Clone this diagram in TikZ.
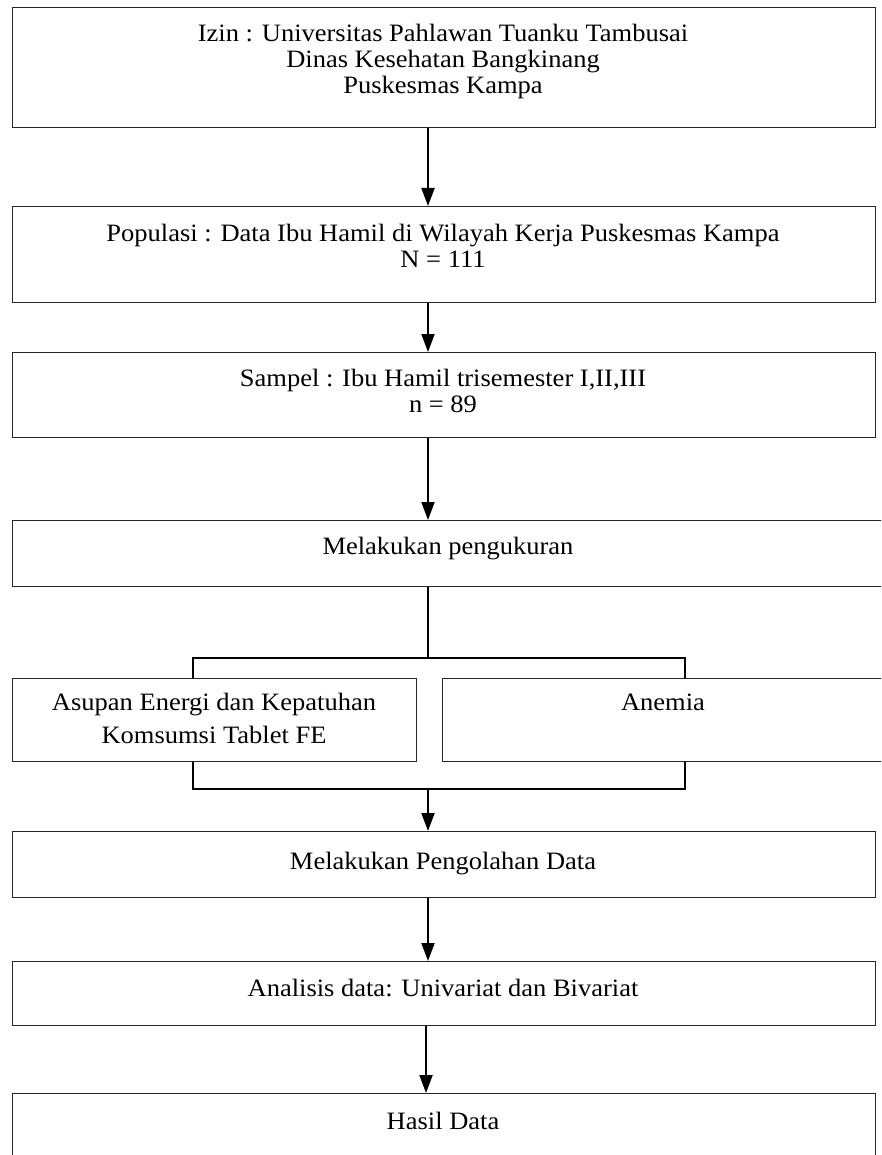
\documentclass[tikz,border=0pt]{standalone}
\usepackage{fontspec}
\setmainfont{Liberation Serif}[FakeStretch=1.06]
\usetikzlibrary{arrows.meta}
\begin{document}
\begin{tikzpicture}[x=1pt,y=-1pt,
  box/.style={draw=black!85, line width=1.3pt, rectangle, inner sep=0pt, anchor=north west},
  txt/.style={anchor=base, inner sep=0pt, font=\fontsize{25}{26}\selectfont},
  arr/.style={line width=2pt, -{Triangle[width=13pt,length=18pt]}},
  brk/.style={line width=2.2pt}]
\useasboundingbox (0,0) rectangle (881,1155);
\clip (0,0) rectangle (881,1155);
% boxes
\node[box, minimum width=863pt, minimum height=120pt] (b1) at (12,7) {};
\node[box, minimum width=863pt, minimum height=96pt] (b2) at (12,206) {};
\node[box, minimum width=863pt, minimum height=85pt] (b3) at (12,352) {};
\node[box, minimum width=872pt, minimum height=66pt] (b4) at (12,520) {};
\node[box, minimum width=404pt, minimum height=83pt] (b5a) at (12,678) {};
\node[box, minimum width=442pt, minimum height=83pt] (b5b) at (442,678) {};
\node[box, minimum width=863pt, minimum height=66pt] (b6) at (12,831) {};
\node[box, minimum width=863pt, minimum height=64pt] (b7) at (12,961) {};
\node[box, minimum width=863pt, minimum height=90pt] (b8) at (12,1093) {};
% texts
\node[txt] (t1a) at (443,42) {Izin : Universitas Pahlawan Tuanku Tambusai};
\node[txt] (t1b) at (443,68) {Dinas Kesehatan Bangkinang};
\node[txt] (t1c) at (443,94) {Puskesmas Kampa};
\node[txt] (t2a) at (443,242) {Populasi : Data Ibu Hamil di Wilayah Kerja Puskesmas Kampa};
\node[txt] (t2b) at (443,268) {N = 111};
\node[txt] (t3a) at (443,386) {Sampel : Ibu Hamil trisemester I,II,III};
\node[txt] (t3b) at (443,412) {n = 89};
\node[txt] (t4) at (448,554) {Melakukan pengukuran};
\node[txt] (t5a) at (214,710) {Asupan Energi dan Kepatuhan};
\node[txt] (t5b) at (214,743) {Komsumsi Tablet FE};
\node[txt] (t5c) at (663,710) {Anemia};
\node[txt] (t6) at (443,869) {Melakukan Pengolahan Data};
\node[txt] (t7) at (443,996) {Analisis data: Univariat dan Bivariat};
\node[txt] (t8) at (443,1129) {Hasil Data};
% connector coordinates
\coordinate (ax) at (428,0);
\coordinate (ax2) at (426,0);
\coordinate (j1) at (428,658);
\coordinate (bl1) at (193,658);
\coordinate (br1) at (685,658);
\coordinate (j2) at (428,789);
\coordinate (bl2) at (193,789);
\coordinate (br2) at (685,789);
% arrows
\draw[arr] (b1.south -| ax) -- (b2.north -| ax);
\draw[arr] (b2.south -| ax) -- (b3.north -| ax);
\draw[arr] (b3.south -| ax) -- (b4.north -| ax);
\draw[brk] (b4.south -| j1) -- (j1);
\draw[brk] (bl1 |- b5a.north) -- (bl1) -- (br1) -- (br1 |- b5b.north);
\draw[brk] (bl2 |- b5a.south) -- (bl2) -- (br2) -- (br2 |- b5b.south);
\draw[arr] (j2) -- (b6.north -| j2);
\draw[arr] (b6.south -| ax) -- (b7.north -| ax);
\draw[arr] (b7.south -| ax2) -- (b8.north -| ax2);
\end{tikzpicture}
\end{document}
